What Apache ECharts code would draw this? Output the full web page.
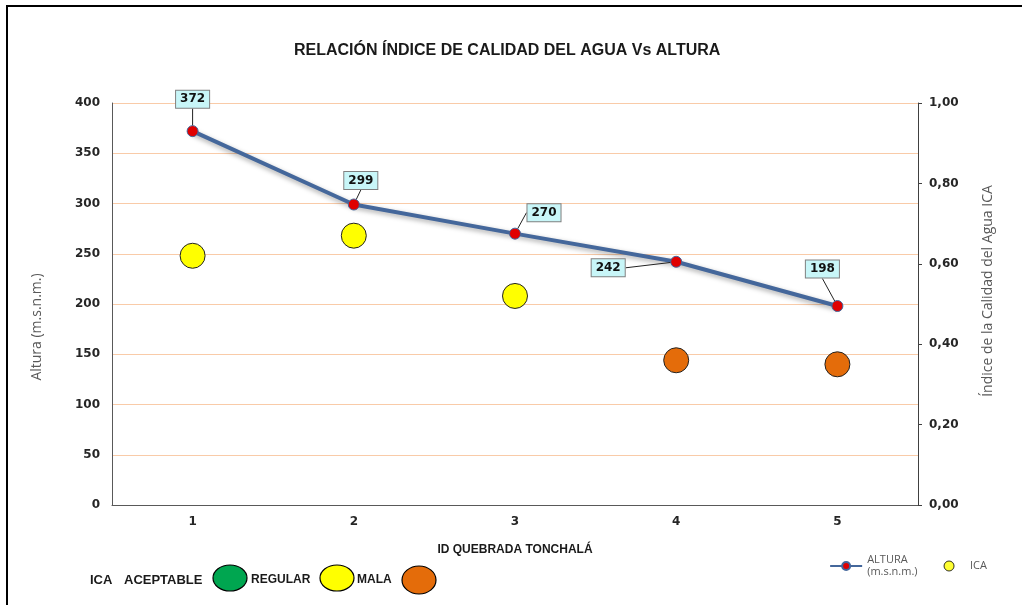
<!DOCTYPE html>
<html><head><meta charset="utf-8">
<script src="https://cdn.jsdelivr.net/npm/echarts@6/dist/echarts.min.js"></script>
<style>html,body{margin:0;padding:0;background:#fff}#c{width:1022px;height:605px}</style>
</head><body><div id="c"></div>
<script>
var categories = ['1','2','3','4','5'];
var altura = [372, 299, 270, 242, 198];
var ica = [0.62, 0.67, 0.52, 0.36, 0.35];
var icaClass = ['REGULAR','REGULAR','REGULAR','MALA','MALA'];
var leftTicks = [0, 50, 100, 150, 200, 250, 300, 350, 400];
var rightTicks = [0, 0.2, 0.4, 0.6, 0.8, 1.0];
var labelOffsets = [[0,-32],[7,-24],[29,-21],[-68,6],[-15,-37]];
var classColors = {ACEPTABLE:'#00a650', REGULAR:'#ffff00', MALA:'#e46c0a'};

var chart = echarts.init(document.getElementById('c'));
var tickFont = {fontFamily:'"DejaVu Sans", sans-serif', fontWeight:'bold', fontSize:12, color:'#262626'};
var arial = '"Liberation Sans", Arial, sans-serif';
var option = {
  animation:false,
  title:{text:'RELACIÓN ÍNDICE DE CALIDAD DEL AGUA Vs ALTURA', left:289, top:38,
    textStyle:{fontFamily:arial, fontWeight:'bold', fontSize:16, color:'#1a1a1a'}},
  grid:{left:112, right:104, top:103, bottom:100},
  legend:{right:30, bottom:22, itemGap:26, itemWidth:32, itemHeight:10,
    textStyle:{fontFamily:'"Open Sans", sans-serif', fontSize:11, color:'#595959', lineHeight:12},
    data:[{name:'ALTURA\n(m.s.n.m.)'},{name:'ICA', icon:'circle', itemStyle:{color:'#ffff00', borderColor:'#000', borderWidth:1}}]},
  xAxis:{type:'category', data:categories, boundaryGap:true,
    axisLine:{lineStyle:{color:'#595959', width:1}}, axisTick:{show:false},
    axisLabel:Object.assign({margin:11}, tickFont),
    name:'ID QUEBRADA TONCHALÁ', nameLocation:'middle', nameGap:39,
    nameTextStyle:{fontFamily:arial, fontWeight:'bold', fontSize:12, color:'#1a1a1a'}},
  yAxis:[
    {type:'value', min:leftTicks[0], max:leftTicks[leftTicks.length-1], interval:leftTicks[1]-leftTicks[0],
     axisLine:{show:true, lineStyle:{color:'#595959'}}, axisTick:{show:false},
     splitLine:{lineStyle:{color:'#f9cba8', width:1}},
     axisLabel:Object.assign({margin:12}, tickFont)},
    {type:'value', min:rightTicks[0], max:rightTicks[rightTicks.length-1], interval:0.2,
     position:'right',
     axisLine:{show:true, lineStyle:{color:'#404040'}}, axisTick:{show:true, length:4, lineStyle:{color:'#404040'}},
     splitLine:{show:false},
     axisLabel:Object.assign({margin:11, formatter:function(v){return v.toFixed(2).replace('.',',');}}, tickFont)}
  ],
  graphic:[
    {type:'rect', shape:{x:7, y:6, width:1030, height:640}, style:{fill:'none', stroke:'#000', lineWidth:2}, silent:true},
    {type:'text', x:37, y:327, rotation:Math.PI/2, style:{text:'Altura (m.s.n.m.)', align:'center', verticalAlign:'middle',
      fontFamily:'"Open Sans", sans-serif', fontSize:14, fill:'#595959'}},
    {type:'text', x:988, y:291, rotation:Math.PI/2, style:{text:'Índice de la Calidad del Agua ICA', align:'center', verticalAlign:'middle',
      fontFamily:'"Open Sans", sans-serif', fontSize:14, fill:'#595959'}},
    {type:'text', x:90, y:580, style:{text:'ICA', verticalAlign:'middle', fontFamily:arial, fontWeight:'bold', fontSize:13, fill:'#1a1a1a'}},
    {type:'text', x:124, y:580, style:{text:'ACEPTABLE', verticalAlign:'middle', fontFamily:arial, fontWeight:'bold', fontSize:13, fill:'#1a1a1a'}},
    {type:'ellipse', shape:{cx:230, cy:578, rx:17, ry:13}, style:{fill:classColors.ACEPTABLE, stroke:'#000', lineWidth:1.2}},
    {type:'text', x:251, y:580, style:{text:'REGULAR', verticalAlign:'middle', fontFamily:arial, fontWeight:'bold', fontSize:12, fill:'#1a1a1a'}},
    {type:'ellipse', shape:{cx:337, cy:578, rx:17, ry:13}, style:{fill:classColors.REGULAR, stroke:'#000', lineWidth:1.2}},
    {type:'text', x:357, y:580, style:{text:'MALA', verticalAlign:'middle', fontFamily:arial, fontWeight:'bold', fontSize:12, fill:'#1a1a1a'}},
    {type:'ellipse', shape:{cx:419, cy:580, rx:17, ry:14}, style:{fill:classColors.MALA, stroke:'#000', lineWidth:1.2}}
  ],
  series:[
    {name:'ALTURA\n(m.s.n.m.)', type:'line', yAxisIndex:0, data:altura, z:5,
     symbol:'circle', symbolSize:11,
     itemStyle:{color:'#e00000', borderColor:'#44679b', borderWidth:1},
     lineStyle:{color:'#44679b', width:4, shadowColor:'rgba(0,0,0,0.35)', shadowBlur:5, shadowOffsetY:2},
     label:{show:true, position:'inside', fontFamily:'"DejaVu Sans", sans-serif', fontWeight:'bold', fontSize:12, color:'#111',
       backgroundColor:'#c8f6f8', borderColor:'#808080', borderWidth:1, padding:[3,4,2,4]},
     labelLine:{show:true, lineStyle:{color:'#222', width:1}},
     labelLayout:function(p){var o=labelOffsets[p.dataIndex]; return {dx:o[0], dy:o[1]};}
    },
    {name:'ICA', type:'scatter', yAxisIndex:1, z:3, symbolSize:25,
     data:ica.map(function(v,i){return {value:v, itemStyle:{color:classColors[icaClass[i]], borderColor:'#222', borderWidth:1, opacity:1}};})}
  ]
};
chart.setOption(option);
</script></body></html>
